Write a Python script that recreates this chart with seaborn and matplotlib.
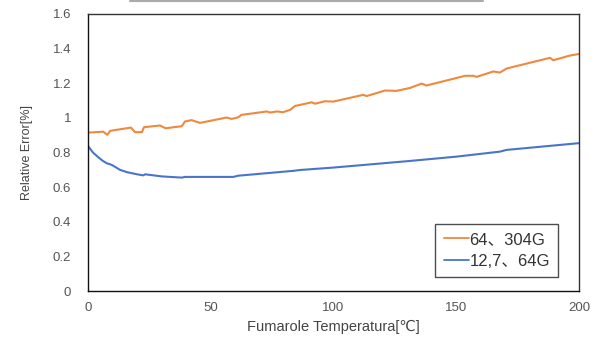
import matplotlib
matplotlib.use("Agg")
import matplotlib.pyplot as plt
import seaborn as sns
import pandas as pd
from matplotlib.lines import Line2D

# Series 1: 64、304G (orange)
t_orange = [0, 6.2, 7.9, 9, 17.5, 19.2, 22, 22.8, 29.3, 31.6, 38.2, 39.5, 42.2, 45.6,
            56.5, 58.5, 61.2, 62.4, 72.8, 74.2, 77, 79.5, 82.3, 84.3, 86.4, 91.1, 92.5,
            96.5, 99.9, 112.1, 113.5, 121, 125.7, 131.2, 135.9, 137.9, 153.6, 157,
            158.3, 165.1, 167.8, 170.5, 188.2, 189.5, 196.3, 200]
v_orange = [0.915, 0.92, 0.902, 0.925, 0.944, 0.917, 0.918, 0.946, 0.956, 0.940, 0.952,
            0.979, 0.987, 0.971, 1.002, 0.994, 1.003, 1.017, 1.037, 1.031, 1.037, 1.033,
            1.046, 1.069, 1.075, 1.090, 1.082, 1.096, 1.094, 1.133, 1.126, 1.158, 1.156,
            1.173, 1.198, 1.187, 1.243, 1.243, 1.237, 1.268, 1.262, 1.285, 1.347, 1.333,
            1.360, 1.369]

# Series 2: 12,7、64G (blue)
t_blue = [0, 2, 4, 6, 7.6, 9, 10, 13, 16, 20, 22.5, 23.3, 30, 38.2, 39.5, 50, 59.2,
          61.2, 83.6, 86.4, 100, 131, 150, 167.8, 170.5, 200]
v_blue = [0.838, 0.80, 0.775, 0.752, 0.738, 0.732, 0.726, 0.70, 0.686, 0.674, 0.668,
          0.674, 0.662, 0.655, 0.659, 0.659, 0.659, 0.666, 0.694, 0.699, 0.713, 0.751,
          0.776, 0.805, 0.815, 0.854]

label_orange = "64、304G"
label_blue = "12,7、64G"
xlabel = "Fumarole Temperatura[℃]"
ylabel = "Relative Error[%]"
x_ticks = [0, 50, 100, 150, 200]
y_ticks = [0, 0.2, 0.4, 0.6, 0.8, 1, 1.2, 1.4, 1.6]
y_ticklabels = ["0", "0.2", "0.4", "0.6", "0.8", "1", "1.2", "1.4", "1.6"]

FAM = ['Liberation Sans', 'DejaVu Sans', 'Noto Sans CJK JP']
sns.set_style("white")
plt.rcParams['font.family'] = FAM

fig = plt.figure(figsize=(6, 3.38), dpi=100)
ax = fig.add_axes([88/600, 1 - 291/338, (579 - 88)/600, (291 - 14)/338])

df_o = pd.DataFrame({"t": t_orange, "v": v_orange})
df_b = pd.DataFrame({"t": t_blue, "v": v_blue})
sns.lineplot(data=df_o, x="t", y="v", ax=ax, color="#F0883D", linewidth=1.5, label=label_orange)
sns.lineplot(data=df_b, x="t", y="v", ax=ax, color="#4A74CC", linewidth=1.5, label=label_blue)

ax.set_xlim(0, 200)
ax.set_ylim(0, 1.6)
ax.set_xticks(x_ticks)
ax.set_xticklabels([str(x) for x in x_ticks])
ax.set_yticks(y_ticks)
ax.set_yticklabels(y_ticklabels)
ax.tick_params(axis='both', direction='in', length=4, width=1, colors='#333333',
               labelcolor='#555555', labelsize=9.5)
ax.tick_params(axis='y', pad=12)
ax.tick_params(axis='x', pad=8)
for s in ax.spines.values():
    s.set_color('#333333')
    s.set_linewidth(1.0)
ax.spines['left'].set_color('#111111')
ax.spines['bottom'].set_color('#111111')

ax.set_xlabel(xlabel, fontsize=10.5, color='#444444', labelpad=4, family=FAM)
ax.set_ylabel(ylabel, fontsize=9, color='#444444', labelpad=14)

leg = ax.legend(loc='lower right', bbox_to_anchor=(0.958, 0.05), frameon=True,
                fancybox=False, edgecolor='#222222', handlelength=1.5,
                handletextpad=0.05, borderpad=0.5, labelspacing=0.4,
                borderaxespad=0.0,
                prop={'family': ['Liberation Sans', 'Noto Sans CJK JP'], 'size': 12})
leg.get_frame().set_linewidth(1.0)
for line in leg.get_lines():
    line.set_linewidth(1.3)
for txt in leg.get_texts():
    txt.set_color('#333333')

# faint cropped rule at the top edge
fig.add_artist(Line2D([130/600, 483/600], [1 - 0.8/338, 1 - 0.8/338],
                      color='#aaaaaa', linewidth=1.5))

fig.savefig("out.png", dpi=100)
